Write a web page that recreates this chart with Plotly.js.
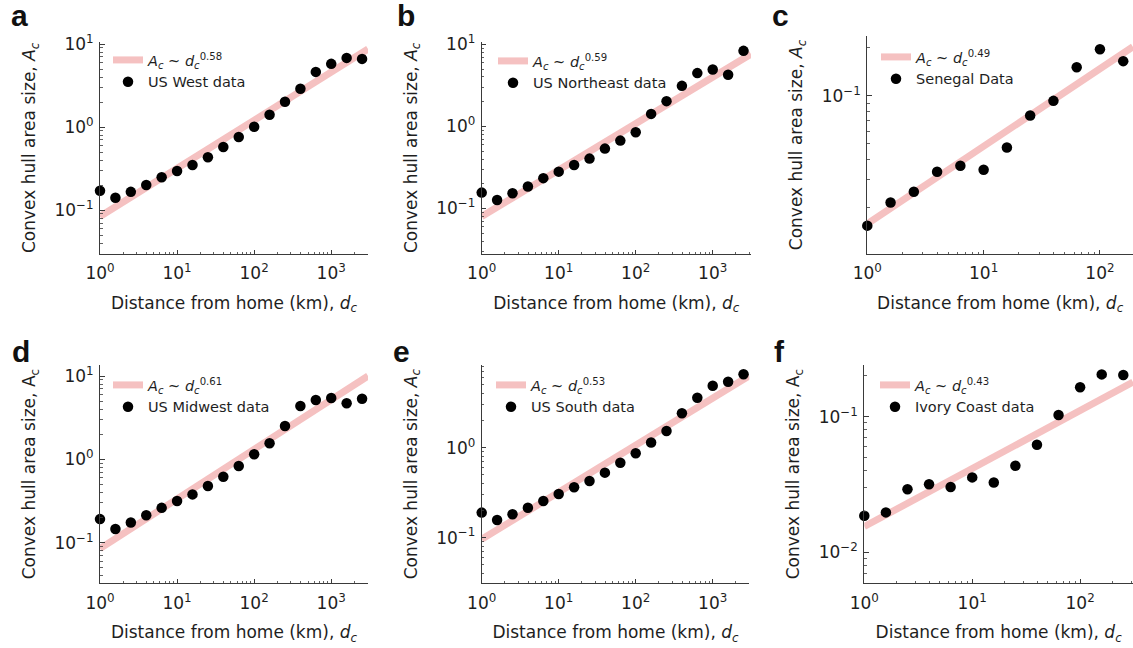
<!DOCTYPE html>
<html>
<head>
<meta charset="utf-8">
<script src="https://cdn.plot.ly/plotly-3.0.1.min.js"></script>
<style>html,body{margin:0;padding:0;background:#fff;}#chart{width:1133px;height:648px;}</style>
</head>
<body>
<div id="chart"></div>
<script>
// ---------------- data ----------------
const distUS = [1, 1.585, 2.512, 3.981, 6.31, 10, 15.85, 25.12, 39.81, 63.1, 100, 158.5, 251.2, 398.1, 631, 1000, 1585, 2512];
const distSenegal = [1, 1.585, 2.512, 3.981, 6.31, 10, 15.85, 25.12, 39.81, 63.1, 100, 158.5];
const distIvory = [1, 1.585, 2.512, 3.981, 6.31, 10, 15.85, 25.12, 39.81, 63.1, 100, 158.5, 251.2];

const areaWest = [0.171, 0.141, 0.166, 0.201, 0.249, 0.296, 0.350, 0.433, 0.575, 0.759, 1.01, 1.41, 2.02, 2.89, 4.62, 5.77, 6.81, 6.62];
const areaNortheast = [0.156, 0.127, 0.153, 0.185, 0.234, 0.281, 0.339, 0.405, 0.536, 0.671, 0.850, 1.42, 2.03, 3.12, 4.46, 4.93, 4.25, 8.33];
const areaSenegal = [0.0154, 0.0215, 0.0251, 0.0335, 0.0365, 0.0345, 0.0475, 0.0753, 0.0931, 0.151, 0.196, 0.165];
const areaMidwest = [0.192, 0.146, 0.175, 0.214, 0.262, 0.316, 0.380, 0.478, 0.618, 0.831, 1.15, 1.56, 2.51, 4.36, 5.15, 5.44, 4.70, 5.34];
const areaSouth = [0.190, 0.157, 0.182, 0.215, 0.256, 0.306, 0.363, 0.427, 0.528, 0.681, 0.867, 1.14, 1.53, 2.41, 3.59, 4.89, 5.41, 6.54];
const areaIvory = [0.0186, 0.0197, 0.0292, 0.0318, 0.0303, 0.0357, 0.0327, 0.0435, 0.0622, 0.103, 0.165, 0.205, 0.203];

// power-law fit lines: end points
const fitWestX = [1, 3000],      fitWestY = [0.084, 8.7];
const fitNortheastX = [1, 3140], fitNortheastY = [0.080, 7.6];
const fitSenegalX = [1, 192],    fitSenegalY = [0.0158, 0.203];
const fitMidwestX = [1, 3000],   fitMidwestY = [0.085, 10.0];
const fitSouthX = [1, 2985],     fitSouthY = [0.096, 6.3];
const fitIvoryX = [1, 309],      fitIvoryY = [0.0155, 0.18];

const fitLabels = ['0.58', '0.59', '0.49', '0.61', '0.53', '0.43'];
const dataLabels = ['US West data', 'US Northeast data', 'Senegal Data', 'US Midwest data', 'US South data', 'Ivory Coast data'];
const panelLetters = ['a', 'b', 'c', 'd', 'e', 'f'];

const xTickVals = [1, 10, 100, 1000];
const xTickText = ['10<sup>0</sup>', '10<sup>1</sup>', '10<sup>2</sup>', '10<sup>3</sup>'];
const yTickVals = [0.01, 0.1, 1, 10];
const yTickText = ['10<sup>\u22122</sup>', '10<sup>\u22121</sup>', '10<sup>0</sup>', '10<sup>1</sup>'];

// ---------------- layout / style ----------------
const W = 1133, H = 648;
const fx = v => v / W;
const fy = v => 1 - v / H;

const seriesX = [distUS, distUS, distSenegal, distUS, distUS, distIvory];
const seriesY = [areaWest, areaNortheast, areaSenegal, areaMidwest, areaSouth, areaIvory];
const fitsX = [fitWestX, fitNortheastX, fitSenegalX, fitMidwestX, fitSouthX, fitIvoryX];
const fitsY = [fitWestY, fitNortheastY, fitSenegalY, fitMidwestY, fitSouthY, fitIvoryY];

// pixel boxes [left, right, top, bottom], log ranges
const panels = [
  {box: [100, 368, 41.7, 254], xr: [0, 3.477], yr: [-1.528, 1.028], leg: [108, 44], letter: [9, 27], italicY: true},
  {box: [481.7, 751, 41.7, 254], xr: [0, 3.497], yr: [-1.555, 1.032], leg: [493, 45], letter: [395, 27], italicY: true},
  {box: [867.3, 1133, 36, 254], xr: [0, 2.284], yr: [-1.99, -0.625], leg: [876, 41], letter: [770, 27], italicY: true},
  {box: [100, 368, 365, 583.3], xr: [0, 3.477], yr: [-1.487, 1.132], leg: [108, 369], letter: [10, 363], italicY: false},
  {box: [481.7, 749.3, 365, 583.3], xr: [0, 3.475], yr: [-1.507, 0.919], leg: [491, 369], letter: [391, 363], italicY: true},
  {box: [864.3, 1133, 365, 583.3], xr: [0, 2.49], yr: [-2.228, -0.619], leg: [875, 369], letter: [772, 363], italicY: false}
];

const minorVals = [];
for (let e = -3; e <= 4; e++) for (let m = 2; m <= 9; m++) minorVals.push(m * Math.pow(10, e));

const FONT = 'DejaVu Sans';
const TXT = '#1e1e1e';
const AX = '#3a3a3a';
const FITCOL = '#f5c1c1';

const traces = [];
const layout = {
  width: W, height: H,
  margin: {l: 0, r: 0, t: 0, b: 0},
  paper_bgcolor: '#fff', plot_bgcolor: 'rgba(0,0,0,0)',
  font: {family: FONT, color: TXT},
  showlegend: true,
  annotations: []
};

panels.forEach((p, i) => {
  const n = i + 1;
  const xa = 'x' + (n === 1 ? '' : n), ya = 'y' + (n === 1 ? '' : n);
  const xk = 'xaxis' + (n === 1 ? '' : n), yk = 'yaxis' + (n === 1 ? '' : n);
  const lk = 'legend' + (n === 1 ? '' : n);
  traces.push({
    x: fitsX[i], y: fitsY[i], xaxis: xa, yaxis: ya, mode: 'lines', type: 'scatter',
    line: {color: FITCOL, width: 7},
    name: '<i>A</i><sub><i>c</i></sub> ~ <i>d</i><sub><i>c</i></sub><sup>' + fitLabels[i] + '</sup>',
    legend: lk, hoverinfo: 'skip'
  });
  traces.push({
    x: seriesX[i], y: seriesY[i], xaxis: xa, yaxis: ya, mode: 'markers', type: 'scatter',
    marker: {color: '#000', size: 10.5},
    name: dataLabels[i], legend: lk, cliponaxis: false
  });
  const common = {
    type: 'log', showgrid: false, zeroline: false, showline: true,
    linecolor: AX, linewidth: 1, ticks: 'inside', ticklen: 4.5, tickwidth: 1, tickcolor: AX,
    tickfont: {family: FONT, size: 17, color: TXT},
    tickmode: 'array',
    minor: {ticks: 'inside', ticklen: 2.5, tickwidth: 0.8, tickcolor: AX, tickmode: 'array', tickvals: minorVals, showgrid: false}
  };
  layout[xk] = Object.assign({}, common, {
    domain: [fx(p.box[0]), fx(p.box[1])], range: p.xr, anchor: ya,
    tickvals: xTickVals, ticktext: xTickText, ticklabelstandoff: 4,
    title: {text: 'Distance from home (km), <i>d</i><sub><i>c</i></sub>', font: {family: FONT, size: 17, color: TXT}, standoff: 14}
  });
  layout[yk] = Object.assign({}, common, {
    domain: [fy(p.box[3]), fy(p.box[2])], range: p.yr, anchor: xa,
    tickvals: yTickVals, ticktext: yTickText, ticklabelstandoff: 2,
    title: {text: p.italicY ? 'Convex hull area size, <i>A</i><sub><i>c</i></sub>' : 'Convex hull area size, A<sub>c</sub>',
            font: {family: FONT, size: 17, color: TXT}, standoff: 14}
  });
  layout[lk] = {
    x: fx(p.leg[0]), y: fy(p.leg[1]), xanchor: 'left', yanchor: 'top',
    bgcolor: 'rgba(0,0,0,0)', borderwidth: 0,
    font: {family: FONT, size: 14.5, color: TXT}
  };
  layout.annotations.push({
    text: '<b>' + panelLetters[i] + '</b>', xref: 'paper', yref: 'paper',
    x: fx(p.letter[0]), y: fy(p.letter[1] + 7), xanchor: 'left', yanchor: 'bottom',
    showarrow: false, font: {family: 'Liberation Sans', size: 30, color: '#111'}
  });
});

Plotly.newPlot('chart', traces, layout, {staticPlot: true, displayModeBar: false});
</script>
</body>
</html>
